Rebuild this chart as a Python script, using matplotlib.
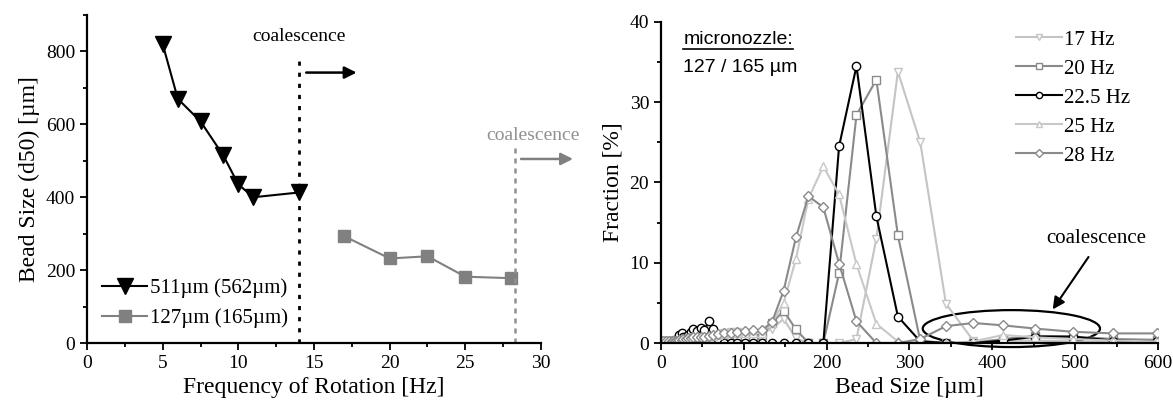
import matplotlib
matplotlib.use("Agg")
import matplotlib.pyplot as plt
import numpy as np
from matplotlib.patches import Ellipse
from matplotlib.ticker import MultipleLocator

plt.rcParams['font.family'] = ['Liberation Serif', 'DejaVu Serif']

# left panel: d50 vs rotation frequency
freq_511 = [5, 6, 7.5, 9, 10, 11, 14]
d50_511 = [820, 670, 608, 515, 435, 400, 413]
freq_127 = [17, 20, 22.5, 25, 28]
d50_127 = [293, 232, 238, 182, 178]
coal_511 = 14
coal_127 = 28.3

# right panel: size distributions of the 127/165 um nozzle
bins = [2, 6, 10, 13, 15, 16.5, 18, 20, 22, 25, 27, 30, 33, 36, 39, 43, 48, 52, 58, 63,
        69, 76, 84, 92, 101, 111, 122, 134, 148, 163, 178, 196, 215, 236, 260,
        286, 313, 344, 377, 413, 452, 497, 546, 599]
hz17 = [0.3, 0.3, 0.3, 0.3, 0.3, 0.3, 0.3, 0.4, 0.5, 0.5, 0.6, 0.6, 0.7, 0.7, 0.8, 0.8, 0.9, 0.9, 1.0, 1.0,
        1.1, 1.3, 1.4, 1.4, 1.3, 1.2, 1.2, 1.8, 3.0, 0.6, 0.0, 0.0, 0.0, 0.5, 13.0,
        33.8, 25.0, 4.9, 0.3, 0.3, 0.3, 0.2, 0.1, 0.0]
hz20 = [0.3, 0.3, 0.3, 0.3, 0.3, 0.3, 0.4, 0.4, 0.5, 0.5, 0.5, 0.6, 0.6, 0.7, 0.7, 0.7, 0.7, 0.7, 0.6, 0.6,
        0.5, 0.5, 0.4, 0.4, 0.4, 0.6, 1.0, 2.5, 4.0, 1.7, 0.0, 0.0, 8.7, 28.4, 32.8,
        13.4, 0.3, 0.0, 0.0, 0.5, 0.9, 0.8, 0.5, 0.4]
hz22 = [0.0, 0.0, 0.0, 0.0, 0.0, 0.0, 0.0, 0.5, 1.0, 1.2, 0.8, 0.7, 1.0, 1.4, 1.8, 1.5, 1.9, 1.6, 2.7, 1.8,
        0.5, 0.0, 0.0, 0.0, 0.0, 0.0, 0.0, 0.0, 0.0, 0.0, 0.0, 0.0, 24.5, 34.5, 15.8,
        3.3, 0.2, 0.0, 0.0, 0.3, 0.8, 0.8, 0.3, 0.2]
hz25 = [0.3, 0.3, 0.3, 0.3, 0.3, 0.3, 0.3, 0.3, 0.4, 0.4, 0.5, 0.5, 0.6, 0.6, 0.7, 0.7, 0.8, 0.8, 0.9, 0.9,
        1.0, 1.1, 1.2, 1.2, 1.2, 1.2, 1.3, 2.5, 5.0, 10.5, 18.0, 22.0, 18.5, 9.8, 2.4,
        0.2, 0.0, 0.0, 0.2, 1.0, 0.7, 0.5, 0.3, 0.2]
hz28 = [0.3, 0.3, 0.3, 0.3, 0.3, 0.3, 0.3, 0.3, 0.4, 0.4, 0.5, 0.5, 0.6, 0.6, 0.7, 0.7, 0.8, 0.8, 0.9, 1.0,
        1.1, 1.2, 1.3, 1.4, 1.5, 1.6, 1.6, 2.6, 6.5, 13.2, 18.3, 16.9, 9.9, 2.7, 0.0,
        0.0, 0.5, 2.1, 2.5, 2.2, 1.8, 1.4, 1.2, 1.2]

fig = plt.figure(figsize=(11.73, 4.05), dpi=100)
ax1 = fig.add_axes([0.0742, 0.153, 0.387, 0.81])
ax2 = fig.add_axes([0.5635, 0.153, 0.4237, 0.793])

for ax in (ax1, ax2):
    ax.spines['top'].set_visible(False)
    ax.spines['right'].set_visible(False)
    ax.spines['left'].set_linewidth(1.6)
    ax.spines['bottom'].set_linewidth(1.6)
    ax.tick_params(which='both', direction='out', width=1.3, labelsize=14)
    ax.tick_params(which='major', length=5)
    ax.tick_params(which='minor', length=3)

# ---- left
ax1.plot(freq_511, d50_511, '-v', color='black', lw=1.5, ms=11, label='511µm (562µm)')
ax1.plot(freq_127, d50_127, '-s', color='#808080', lw=1.5, ms=8, label='127µm (165µm)')
ax1.plot([coal_511, coal_511], [0, 780], color='black', ls=(0, (1.5, 2.5)), lw=2)
ax1.plot([coal_127, coal_127], [0, 545], color='#909090', ls=(0, (2, 2)), lw=1.8)
ax1.text(coal_511, 840, 'coalescence', ha='center', va='center', fontsize=14)
ax1.text(coal_127 + 1.2, 570, 'coalescence', ha='center', va='center', fontsize=14,
         color='#909090', clip_on=False)
ax1.annotate('', xy=(18, 742), xytext=(14.3, 742),
             arrowprops=dict(arrowstyle='-|>', color='black', lw=1.8, mutation_scale=18))
ax1.annotate('', xy=(32.3, 505), xytext=(28.5, 505), annotation_clip=False,
             arrowprops=dict(arrowstyle='-|>', color='#808080', lw=1.8, mutation_scale=18))
ax1.set_xlim(0, 30)
ax1.set_ylim(0, 900)
ax1.xaxis.set_major_locator(MultipleLocator(5))
ax1.xaxis.set_minor_locator(MultipleLocator(2.5))
ax1.yaxis.set_major_locator(MultipleLocator(200))
ax1.yaxis.set_minor_locator(MultipleLocator(100))
ax1.set_xlabel('Frequency of Rotation [Hz]', fontsize=17)
ax1.set_ylabel('Bead Size (d50) [µm]', fontsize=17)
ax1.legend(loc='lower left', frameon=False, fontsize=15, handlelength=2.2,
           handletextpad=0.1, borderaxespad=0.3, labelspacing=0.5)

# ---- right
series = [(hz17, 'v', '#c4c4c4', '17 Hz'),
          (hz20, 's', '#8a8a8a', '20 Hz'),
          (hz22, 'o', 'black', '22.5 Hz'),
          (hz25, '^', '#c8c8c8', '25 Hz'),
          (hz28, 'D', '#8a8a8a', '28 Hz')]
for vals, mk, col, lab in series:
    ax2.plot(bins, vals, '-', marker=mk, color=col, mfc='white', mec=col, lw=1.5,
             ms=6 if mk != 'D' else 5.5, mew=1.0, label=lab)
ax2.set_xlim(0, 600)
ax2.set_ylim(0, 40)
ax2.xaxis.set_major_locator(MultipleLocator(100))
ax2.xaxis.set_minor_locator(MultipleLocator(50))
ax2.yaxis.set_major_locator(MultipleLocator(10))
ax2.yaxis.set_minor_locator(MultipleLocator(5))
ax2.set_xlabel('Bead Size [µm]', fontsize=17)
ax2.set_ylabel('Fraction [%]', fontsize=17)
ax2.legend(loc='upper right', frameon=False, fontsize=15, handlelength=2.2,
           handletextpad=0.1, borderaxespad=0.0, labelspacing=0.45, markerscale=0.75,
           bbox_to_anchor=(0.96, 1.0))
ax2.text(0.045, 0.93, 'micronozzle:', transform=ax2.transAxes, fontsize=14,
         family=['Liberation Sans', 'DejaVu Sans'])
ax2.plot([0.045, 0.266], [0.915, 0.915], transform=ax2.transAxes, color='black', lw=1.2)
ax2.text(0.045, 0.845, '127 / 165 µm', transform=ax2.transAxes, fontsize=14,
         family=['Liberation Sans', 'DejaVu Sans'])
ax2.add_patch(Ellipse((423, 1.8), 214, 4.6, fill=False, color='black', lw=1.6, clip_on=False))
ax2.text(526, 13.0, 'coalescence', ha='center', va='center', fontsize=15)
ax2.annotate('', xy=(471, 3.9), xytext=(518, 11.0),
             arrowprops=dict(arrowstyle='-|>', color='black', lw=1.5, mutation_scale=18))

fig.savefig('out.png', dpi=100)
